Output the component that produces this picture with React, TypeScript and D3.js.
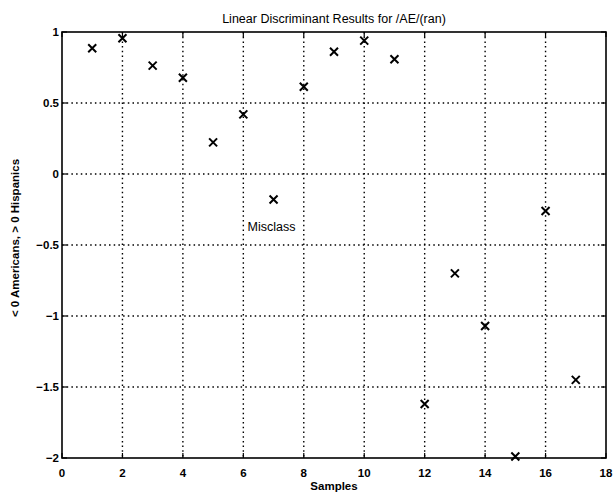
import React from "react";
import * as d3 from "d3";

const samples = [1, 2, 3, 4, 5, 6, 7, 8, 9, 10, 11, 12, 13, 14, 15, 16, 17];
const scores = [0.885, 0.956, 0.763, 0.678, 0.223, 0.42, -0.18, 0.615, 0.861, 0.939, 0.808, -1.62, -0.70, -1.07, -1.99, -0.26, -1.45];
const xTicks = [0, 2, 4, 6, 8, 10, 12, 14, 16, 18];
const yTicks = [-2, -1.5, -1, -0.5, 0, 0.5, 1];
const titleText = "Linear Discriminant Results for /AE/(ran)";
const xLabel = "Samples";
const yLabel = "< 0 Americans,  > 0 Hispanics";
const noteText = "Misclass";
const noteSample = 7;

const W = 613;
const H = 498;
const m = { left: 62, right: 7, top: 32, bottom: 40 };
const font = "'Liberation Sans', Arial, Helvetica, sans-serif";

export default function App() {
  const x = d3.scaleLinear().domain([0, 18]).range([m.left, W - m.right]);
  const y = d3.scaleLinear().domain([-2, 1]).range([H - m.bottom, m.top]);
  const fmt = (v: number) => (v < 0 ? "\u2212" + String(Math.abs(v)) : String(v));
  const s = 4;
  return (
    <svg width={W} height={H} style={{ position: "absolute", left: 0, top: 0, background: "#fff" }}>
      <rect x={0} y={0} width={W} height={H} fill="#fff" />
      {/* grid */}
      {xTicks.slice(1, -1).map((t) => (
        <line key={"gx" + t} x1={x(t)} x2={x(t)} y1={y(1)} y2={y(-2)} stroke="#000" strokeWidth={1.4} strokeDasharray="1.5,3.2" />
      ))}
      {yTicks.slice(1, -1).map((t) => (
        <line key={"gy" + t} x1={x(0)} x2={x(18)} y1={y(t)} y2={y(t)} stroke="#000" strokeWidth={1.4} strokeDasharray="1.5,3.2" />
      ))}
      {/* ticks */}
      {xTicks.map((t) => (
        <g key={"tx" + t}>
          <line x1={x(t)} x2={x(t)} y1={y(-2)} y2={y(-2) - 5} stroke="#000" strokeWidth={1.2} />
          <line x1={x(t)} x2={x(t)} y1={y(1)} y2={y(1) + 5} stroke="#000" strokeWidth={1.2} />
          <text x={x(t)} y={y(-2) + 19} textAnchor="middle" fontFamily={font} fontSize={11.5} fontWeight="bold" fill="#000">
            {fmt(t)}
          </text>
        </g>
      ))}
      {yTicks.map((t) => (
        <g key={"ty" + t}>
          <line x1={x(0)} x2={x(0) + 5} y1={y(t)} y2={y(t)} stroke="#000" strokeWidth={1.2} />
          <line x1={x(18)} x2={x(18) - 5} y1={y(t)} y2={y(t)} stroke="#000" strokeWidth={1.2} />
          <text x={x(0) - 3} y={y(t) + 4} textAnchor="end" fontFamily={font} fontSize={11.5} fontWeight="bold" fill="#000">
            {fmt(t)}
          </text>
        </g>
      ))}
      {/* axes box */}
      <rect x={x(0)} y={y(1)} width={x(18) - x(0)} height={y(-2) - y(1)} fill="none" stroke="#000" strokeWidth={1.6} />
      {/* markers */}
      {samples.map((d, i) => (
        <path
          key={"p" + d}
          d={`M${x(d) - s},${y(scores[i]) - s}L${x(d) + s},${y(scores[i]) + s}M${x(d) - s},${y(scores[i]) + s}L${x(d) + s},${y(scores[i]) - s}`}
          stroke="#000"
          strokeWidth={2}
          fill="none"
        />
      ))}
      <text x={x(noteSample) - 2} y={y(scores[noteSample - 1]) + 31} textAnchor="middle" fontFamily={font} fontSize={12.5} fill="#000">
        {noteText}
      </text>
      <text x={(x(0) + x(18)) / 2 - 50} y={23} textAnchor="middle" fontFamily={font} fontSize={12.5} fill="#000" transform="translate(50,0)">
        {titleText}
      </text>
      <text x={(x(0) + x(18)) / 2} y={H - 8} textAnchor="middle" fontFamily={font} fontSize={11.5} fontWeight="bold" fill="#000">
        {xLabel}
      </text>
      <text transform={`translate(19,238) rotate(-90)`} textAnchor="middle" fontFamily={font} fontSize={11.5} fontWeight="bold" fill="#000">
        {yLabel}
      </text>
    </svg>
  );
}
